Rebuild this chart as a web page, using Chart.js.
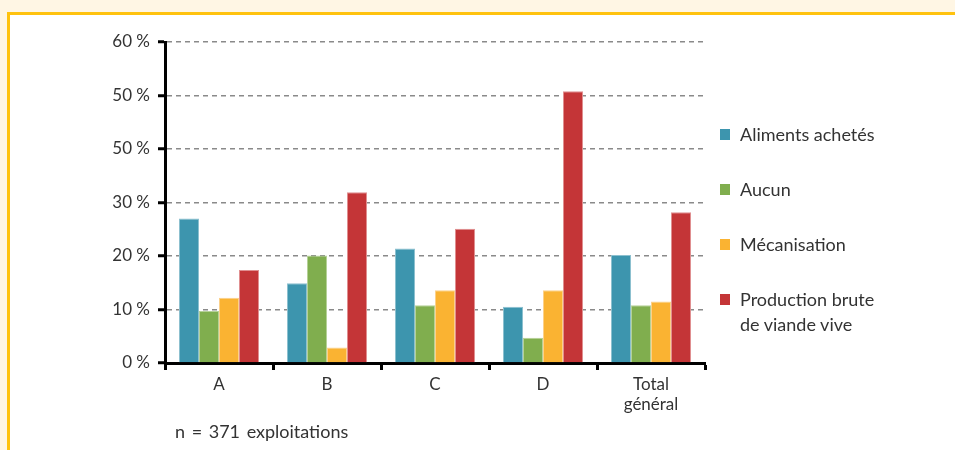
<!DOCTYPE html>
<html>
<head>
<meta charset="utf-8">
<script src="https://cdn.jsdelivr.net/npm/chart.js@4.4.1/dist/chart.umd.min.js"></script>
<style>
  html, body { margin: 0; padding: 0; }
  body {
    width: 955px; height: 450px; overflow: hidden; position: relative;
    background: #fff6e4;
    font-family: Lato, "Open Sans", sans-serif;
    color: #333;
  }
  .box {
    position: absolute; left: 7px; top: 12px; width: 1000px; height: 500px;
    background: #fff; border: 3px solid #ffc20e;
  }
  #chart { position: absolute; left: 0; top: 0; }
  .legend { position: absolute; left: 720px; top: 122px; font-size: 18px; }
  .legend .item { position: relative; padding-left: 20px; line-height: 25px; margin-bottom: 30px; }
  .legend .sw { position: absolute; left: 0; top: 7px; width: 10px; height: 11px; }
  .note { position: absolute; left: 175px; top: 420px; font-size: 18px; word-spacing: 2px; }
</style>
</head>
<body>
<div class="box"></div>
<canvas id="chart" width="955" height="450"></canvas>
<div class="legend" id="legend"></div>
<div class="note">n = 371 exploitations</div>
<script>
const categories = ['A', 'B', 'C', 'D', ['Total', 'général']];
const seriesNames = ['Aliments achetés', 'Aucun', 'Mécanisation', 'Production brute\nde viande vive'];
const seriesColors = ['#3d95ae', '#80ae4e', '#fab332', '#c43537'];
const seriesEdges = ['#8cc0cf', '#b5d197', '#fcd18a', '#e08f90']; // pale bar outlines
const alimentsAchetes = [27.0, 14.9, 21.4, 10.5, 20.2];
const aucun = [9.7, 20.1, 10.8, 4.7, 10.8];
const mecanisation = [12.2, 2.9, 13.6, 13.6, 11.5];
const productionBrute = [17.4, 31.9, 25.1, 50.8, 28.2];
const yTickLabels = ['0 %', '10 %', '20 %', '30 %', '50 %', '50 %', '60 %'];

const seriesValues = [alimentsAchetes, aucun, mecanisation, productionBrute];
const font = { family: 'Lato, "Open Sans", sans-serif', size: 17, lineHeight: 1.2 };

const datasets = seriesValues.map((values, i) => ({
  label: seriesNames[i],
  data: values,
  backgroundColor: seriesColors[i],
  borderColor: seriesEdges[i],
  borderWidth: { top: 1, left: 1, right: 1, bottom: 0 },
  categoryPercentage: 80 / 108, // 4 bars of 20px in a 108px category
  barPercentage: 1.0
}));

// html legend, built from the datasets
const legend = document.getElementById('legend');
datasets.forEach(ds => {
  const item = document.createElement('div');
  item.className = 'item';
  const sw = document.createElement('span');
  sw.className = 'sw';
  sw.style.background = ds.backgroundColor;
  item.appendChild(sw);
  ds.label.split('\n').forEach((line, k) => {
    if (k > 0) item.appendChild(document.createElement('br'));
    item.appendChild(document.createTextNode(line));
  });
  legend.appendChild(item);
});

new Chart(document.getElementById('chart').getContext('2d'), {
  type: 'bar',
  data: { labels: categories, datasets: datasets },
  options: {
    responsive: false,
    animation: false,
    layout: { padding: { left: 0, top: 42, right: 250, bottom: 0 } },
    plugins: { legend: { display: false }, tooltip: { enabled: false } },
    scales: {
      y: {
        min: 0,
        max: 60,
        afterFit: scale => { scale.width = 165; },
        ticks: {
          stepSize: 10,
          color: '#333',
          font: font,
          padding: 8,
          callback: (value, index) => yTickLabels[index]
        },
        grid: {
          color: '#8a8a8a',
          lineWidth: 1.5,
          tickColor: '#000',
          tickLength: 7,
          tickWidth: 3
        },
        border: { display: true, color: '#000', width: 3, dash: [5, 4] }
      },
      x: {
        afterFit: scale => { scale.height = 87; },
        ticks: { color: '#333', font: font, padding: 4 },
        grid: {
          drawOnChartArea: false,
          offset: true,
          tickColor: '#000',
          tickLength: 7,
          tickWidth: 3
        },
        border: { display: true, color: '#000', width: 3 }
      }
    }
  }
});
</script>
</body>
</html>
